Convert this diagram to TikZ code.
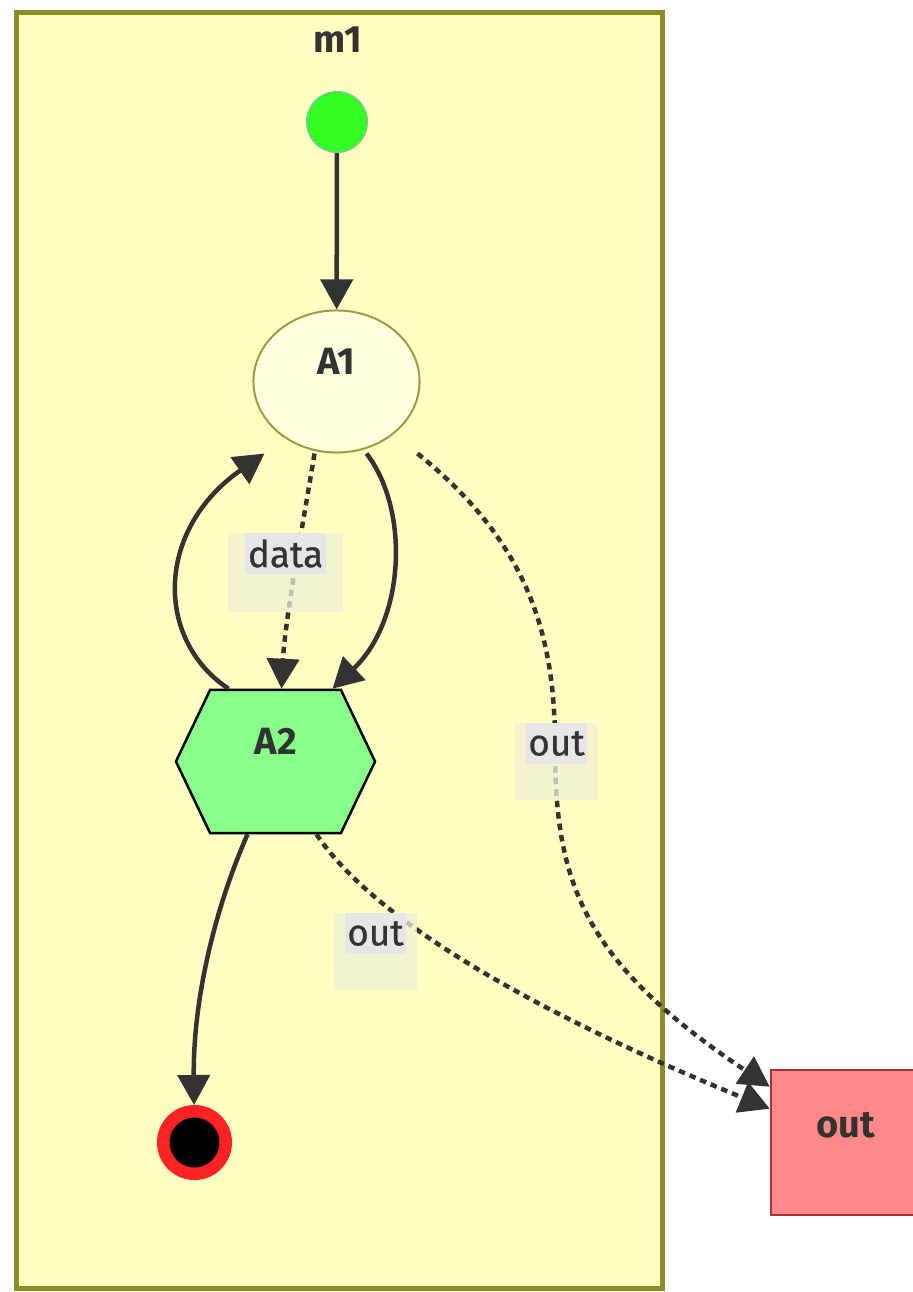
\documentclass[tikz,border=0pt]{standalone}
\usepackage{fontspec}
\setmainfont{Fira Sans}
\newfontfamily\tagfont{Fira Sans}[FakeBold=0.6]
\usetikzlibrary{calc,arrows.meta,shapes.geometric,shapes.symbols}

\definecolor{ink}{HTML}{333333}
\definecolor{clusterfill}{HTML}{FFFFC2}
\definecolor{clusterline}{HTML}{8C8C26}
\definecolor{statefill}{HTML}{FFFFDF}
\definecolor{stateline}{HTML}{9C9C40}
\definecolor{hexfill}{HTML}{88FF88}
\definecolor{startgreen}{HTML}{33FF22}
\definecolor{startrim}{HTML}{A0AEC0}
\definecolor{endred}{HTML}{FF2222}
\definecolor{outfill}{HTML}{FF8888}
\definecolor{outline}{HTML}{AA3333}
\definecolor{padfill}{HTML}{F0F0D6}
\definecolor{tagfill}{HTML}{E6E6E8}

\begin{document}
\begin{tikzpicture}[x=0.01cm,y=0.01cm,
  font=\fontsize{10.5}{12}\selectfont,text=ink,
  cluster/.style={draw=clusterline,fill=clusterfill,line width=0.05cm,minimum width=6.455cm,minimum height=12.755cm},
  state/.style={font=\fontsize{10.8}{12}\selectfont\bfseries,text height=0.26cm,text depth=0.4cm},
  flow/.style={draw=ink,line width=0.045cm,-{Triangle[length=0.3cm,width=0.32cm]}},
  dataflow/.style={flow,dash pattern=on 0.065cm off 0.05cm},
  pad/.style={fill=padfill,fill opacity=0.75,inner sep=0pt},
  tag/.style={fill=tagfill,inner sep=0pt,minimum height=0.41cm,font=\fontsize{10.5}{12}\tagfont}]
\useasboundingbox (0,0) rectangle (912,-1292);

\node[cluster] (m1box) at (339.25,-650.25) {};
\node[font=\fontsize{10.8}{12}\selectfont\bfseries] (m1) at (338,-40) {m1};

\node[circle,fill=startgreen,draw=startrim,line width=0.01cm,minimum size=0.61cm,inner sep=0pt] (start) at (337,-122) {};
\node[state,ellipse,fill=statefill,draw=stateline,line width=0.02cm,minimum width=1.66cm,minimum height=1.42cm] (a1) at (336.5,-381.5) {A1};
\node[state,signal,signal to=east and west,signal pointer angle=129,fill=hexfill,draw=black,line width=0.025cm,minimum width=1.99cm,minimum height=1.43cm] (a2) at (275.5,-761.5) {A2};
\node[circle,fill=black,draw=endred,line width=0.125cm,minimum size=0.625cm,inner sep=0pt] (end) at (194.5,-1142.5) {};
\node[state,text depth=0.36cm,fill=outfill,draw=outline,line width=0.025cm,minimum width=1.5cm,minimum height=1.45cm] (out) at (846,-1142.5) {out};

\draw[flow] (start) -- (a1);
\draw[flow] ($(a2.north)+(-47,0)$) .. controls (155,-640) and (155,-530) .. ($(a1.south)+(-72,0)$);
\draw[flow] ($(a1.south)+(30,0)$) .. controls (410,-510) and (405,-620) .. ($(a2.north)+(57,0)$);
\draw[dataflow] ($(a1.south)+(-22,0)$) .. controls (302,-530) and (285,-620) .. ($(a2.north)+(6,0)$);
\draw[dataflow] ($(a1.south)+(81,0)$) .. controls (525,-540) and (555,-630) .. (555,-745)
  .. controls (555,-880) and (580,-960) .. ($(out.north west)+(0,-18)$);
\draw[dataflow] ($(a2.south)+(41,0)$) .. controls (360,-900) and (480,-990) .. ($(out.north west)+(0,-40)$);
\draw[flow] ($(a2.south)+(-28,0)$) .. controls (210,-920) and (193,-1010) .. (end);

\node[pad,minimum width=1.15cm,minimum height=0.79cm] (datapad) at (285.5,-572.5) {};
\node[tag,anchor=north,minimum width=0.8cm] (data) at (datapad.north) {data};
\node[pad,minimum width=0.83cm,minimum height=0.77cm] (outpad1) at (556.5,-761.5) {};
\node[tag,anchor=north,minimum width=0.6cm] (out1) at (outpad1.north) {out};
\node[pad,minimum width=0.83cm,minimum height=0.77cm] (outpad2) at (375.5,-951.5) {};
\node[tag,anchor=north,minimum width=0.6cm] (out2) at (outpad2.north) {out};
\end{tikzpicture}
\end{document}
